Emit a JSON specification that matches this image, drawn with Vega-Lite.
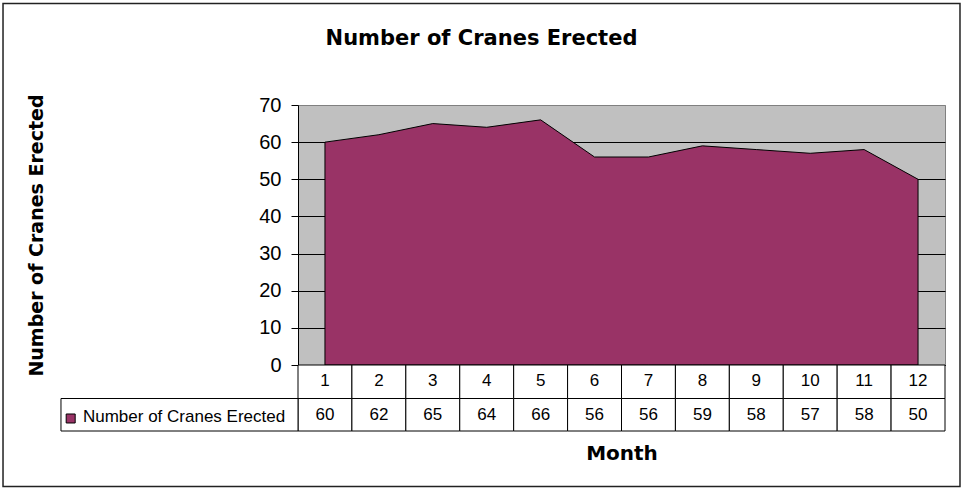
{
  "$schema": "https://vega.github.io/schema/vega-lite/v6.json",
  "width": 647,
  "height": 260,
  "autosize": {"type": "none"},
  "padding": {"left": 298, "top": 105, "right": 17, "bottom": 124},
  "background": "white",
  "config": {"view": {"fill": "#C0C0C0", "stroke": "#808080", "strokeWidth": 1}},
  "title": {"text": "Number of Cranes Erected", "font": "DejaVu Sans", "fontSize": 21, "fontWeight": "bold", "color": "black", "anchor": "middle", "offset": -46, "dx": -140},
  "data": {"values": [
    {"month": 1, "value": 60}, {"month": 2, "value": 62}, {"month": 3, "value": 65},
    {"month": 4, "value": 64}, {"month": 5, "value": 66}, {"month": 6, "value": 56},
    {"month": 7, "value": 56}, {"month": 8, "value": 59}, {"month": 9, "value": 58},
    {"month": 10, "value": 57}, {"month": 11, "value": 58}, {"month": 12, "value": 50}
  ]},
  "layer": [
    {
      "mark": {"type": "area", "fill": "#993366", "fillOpacity": 1, "stroke": "black", "strokeWidth": 1},
      "encoding": {
        "x": {"field": "month", "type": "quantitative", "scale": {"domain": [0.5, 12.5], "nice": false, "zero": false},
          "axis": {"title": "Month", "labels": false, "ticks": false, "grid": false, "domainColor": "black",
            "titleFont": "DejaVu Sans", "titleFontSize": 20, "titleFontWeight": "bold", "titleColor": "black", "titlePadding": 78}},
        "y": {"field": "value", "type": "quantitative", "scale": {"domain": [0, 70], "nice": false, "zero": false},
          "axis": {"values": [0, 10, 20, 30, 40, 50, 60, 70], "tickCount": 10, "labelOverlap": false, "title": "Number of Cranes Erected",
            "titleFont": "DejaVu Sans", "titleFontSize": 19, "titleFontWeight": "bold", "titleColor": "black", "titlePadding": 212,
            "labelFont": "Liberation Sans", "labelFontSize": 20, "labelColor": "black", "labelPadding": 10,
            "tickSize": 7, "tickColor": "black", "domainColor": "black",
            "grid": true, "gridOpacity": 1, "gridColor": {"condition": {"test": "datum.value === 70", "value": "#808080"}, "value": "black"}}}
      }
    },
    {
      "transform": [{"calculate": "datum.month - 0.5", "as": "lo"}, {"calculate": "datum.month + 0.5", "as": "hi"}],
      "mark": {"type": "rect", "fill": "white", "stroke": "black", "strokeWidth": 1},
      "encoding": {
        "x": {"field": "lo", "type": "quantitative", "scale": {"domain": [0.5, 12.5], "nice": false, "zero": false}},
        "x2": {"field": "hi"},
        "y": {"datum": 0, "type": "quantitative", "scale": {"domain": [0, 70], "nice": false, "zero": false}},
        "y2": {"datum": -9.02}
      }
    },
    {
      "transform": [{"calculate": "datum.month - 0.5", "as": "lo"}, {"calculate": "datum.month + 0.5", "as": "hi"}],
      "mark": {"type": "rect", "fill": "white", "stroke": "black", "strokeWidth": 1},
      "encoding": {
        "x": {"field": "lo", "type": "quantitative", "scale": {"domain": [0.5, 12.5], "nice": false, "zero": false}},
        "x2": {"field": "hi"},
        "y": {"datum": -9.02, "type": "quantitative", "scale": {"domain": [0, 70], "nice": false, "zero": false}},
        "y2": {"datum": -17.77}
      }
    },
    {
      "mark": {"type": "text", "font": "Liberation Sans", "fontSize": 17, "color": "black", "align": "center", "baseline": "middle"},
      "encoding": {
        "x": {"field": "month", "type": "quantitative", "scale": {"domain": [0.5, 12.5], "nice": false, "zero": false}},
        "y": {"datum": -4.2, "type": "quantitative", "scale": {"domain": [0, 70], "nice": false, "zero": false}},
        "text": {"field": "month"}
      }
    },
    {
      "mark": {"type": "text", "font": "Liberation Sans", "fontSize": 17, "color": "black", "align": "center", "baseline": "middle"},
      "encoding": {
        "x": {"field": "month", "type": "quantitative", "scale": {"domain": [0.5, 12.5], "nice": false, "zero": false}},
        "y": {"datum": -13.46, "type": "quantitative", "scale": {"domain": [0, 70], "nice": false, "zero": false}},
        "text": {"field": "value"}
      }
    },
    {
      "data": {"values": [{"label": "Number of Cranes Erected"}]},
      "layer": [
        {
          "mark": {"type": "rect", "fill": "white", "stroke": "black", "strokeWidth": 1},
          "encoding": {
            "x": {"datum": -3.896, "type": "quantitative", "scale": {"domain": [0.5, 12.5], "nice": false, "zero": false}},
            "x2": {"datum": 0.5},
            "y": {"datum": -9.02, "type": "quantitative", "scale": {"domain": [0, 70], "nice": false, "zero": false}},
            "y2": {"datum": -17.77}
          }
        },
        {
          "mark": {"type": "point", "shape": "square", "filled": true, "fill": "#993366", "stroke": "black", "strokeWidth": 1, "size": 81, "opacity": 1},
          "encoding": {
            "x": {"datum": -3.716, "type": "quantitative", "scale": {"domain": [0.5, 12.5], "nice": false, "zero": false}},
            "y": {"datum": -14.4, "type": "quantitative", "scale": {"domain": [0, 70], "nice": false, "zero": false}}
          }
        },
        {
          "mark": {"type": "text", "font": "Liberation Sans", "fontSize": 17, "color": "black", "align": "left", "baseline": "middle"},
          "encoding": {
            "x": {"datum": -3.488, "type": "quantitative", "scale": {"domain": [0.5, 12.5], "nice": false, "zero": false}},
            "y": {"datum": -14.0, "type": "quantitative", "scale": {"domain": [0, 70], "nice": false, "zero": false}},
            "text": {"field": "label"}
          }
        },
        {
          "mark": {"type": "rect", "fill": "transparent", "stroke": "#222222", "strokeWidth": 1.5},
          "encoding": {
            "x": {"datum": -4.971, "type": "quantitative", "scale": {"domain": [0.5, 12.5], "nice": false, "zero": false}},
            "x2": {"datum": 12.778},
            "y": {"datum": 97.33, "type": "quantitative", "scale": {"domain": [0, 70], "nice": false, "zero": false}},
            "y2": {"datum": -32.71}
          }
        }
      ]
    }
  ]
}
